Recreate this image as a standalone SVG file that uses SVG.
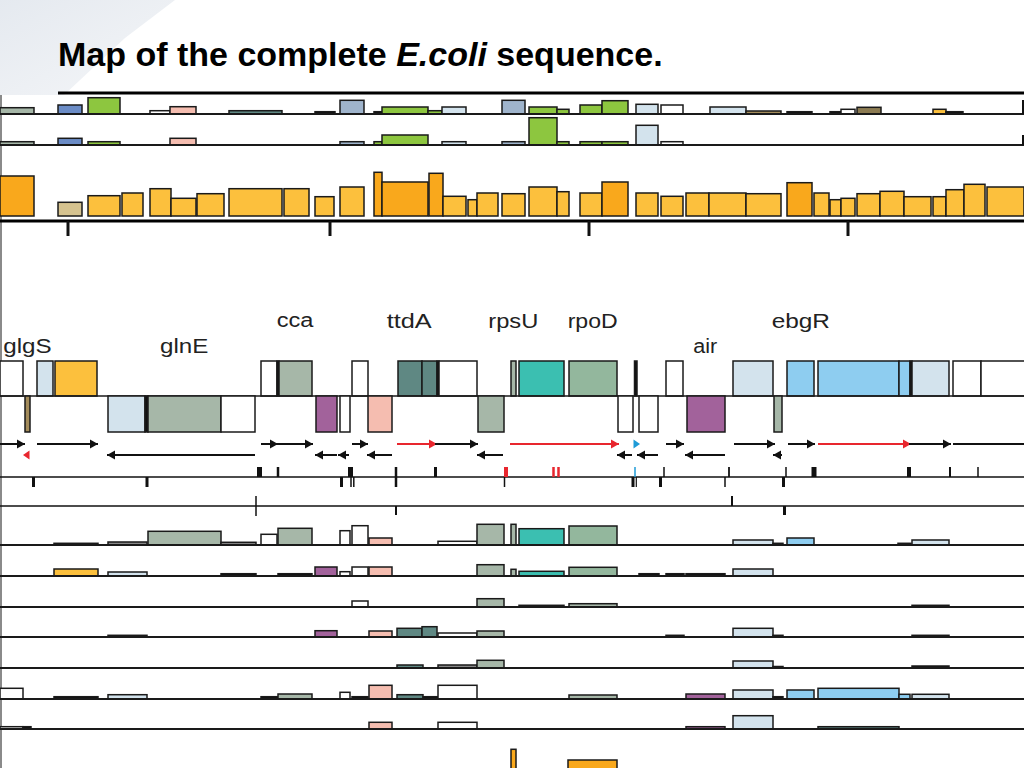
<svg xmlns="http://www.w3.org/2000/svg" width="1024" height="768" viewBox="0 0 1024 768">
<defs>
<linearGradient id="sw" x1="0" y1="0" x2="1" y2="1">
<stop offset="0" stop-color="#dce2ea"/>
<stop offset="1" stop-color="#f1f3f6"/>
</linearGradient>
<marker id="ak" markerWidth="10" markerHeight="10" refX="8" refY="5" orient="auto" markerUnits="userSpaceOnUse"><path d="M0,0.5 L8,5 L0,9.5 z" fill="#111"/></marker>
<marker id="ar" markerWidth="10" markerHeight="10" refX="8" refY="5" orient="auto" markerUnits="userSpaceOnUse"><path d="M0,0.5 L8,5 L0,9.5 z" fill="#e8262e"/></marker>
</defs>
<style>
rect{stroke:#1a1a1a;stroke-width:1.5}
.gg{fill:#a6b7a8}.sa{fill:#93b79d}.lb{fill:#d3e3ed}.oy{fill:#fcc03d}.od{fill:#f9a81c}
.pu{fill:#a2629b}.pk{fill:#f5bdb0}.dt{fill:#5f8883}.te{fill:#3bbfb1}.sk{fill:#8ecdf0}
.tn{fill:#a38b5a}.bl{fill:#6b8cc6}.gr{fill:#8dc63f}.gb{fill:#9fb4cc}.tb{fill:#d6c38f}
.br{fill:#8c7b52}.wh{fill:#ffffff}.bk{fill:#111}.gy{fill:#888}
.base{stroke:#1a1a1a;stroke-width:2}
.tk{stroke:#111}
.a{stroke:#111;stroke-width:2;fill:none;marker-end:url(#ak)}
.r{stroke:#e8262e;stroke-width:2;fill:none;marker-end:url(#ar)}
.lab{font-family:"Liberation Sans",Arial,sans-serif;font-size:20px;fill:#222}
</style>
<polygon points="0,0 175,0 125,38 64,95 0,95" fill="url(#sw)" opacity="0.75"/>
<line x1="1" y1="95" x2="1" y2="768" stroke="#8a8a8a" stroke-width="2"/>

<g id="title">
<text x="58" y="66" font-family="Liberation Sans,Arial,sans-serif" font-size="34" font-weight="bold" fill="#000">Map of the complete <tspan font-style="italic">E.coli</tspan> sequence.</text>
<line x1="58" y1="93" x2="1024" y2="93" stroke="#000" stroke-width="3"/>
</g>

<g id="row1">
<rect class="gg" x="0" y="107.7" width="34" height="6.3"/>
<rect class="bl" x="58" y="105" width="24" height="9"/>
<rect class="gr" x="88" y="97.7" width="32" height="16.3"/>
<rect class="wh" x="150" y="110.7" width="20" height="3.3"/>
<rect class="pk" x="170" y="106.7" width="26" height="7.3"/>
<rect class="dt" x="229" y="110.7" width="53" height="3.3"/>
<rect class="bk" x="315" y="111.7" width="20" height="2.3"/>
<rect class="gb" x="340" y="100.3" width="24" height="13.7"/>
<rect class="bk" x="374" y="111.7" width="8" height="2.3"/>
<rect class="gr" x="382" y="107" width="46" height="7"/>
<rect class="gr" x="428" y="110.7" width="14" height="3.3"/>
<rect class="lb" x="442" y="107" width="24" height="7"/>
<rect class="gb" x="502" y="100.3" width="23" height="13.7"/>
<rect class="gr" x="529" y="107" width="28" height="7"/>
<rect class="gr" x="557" y="109.3" width="12" height="4.7"/>
<rect class="gr" x="580" y="105" width="22" height="9"/>
<rect class="gr" x="602" y="100.7" width="26" height="13.3"/>
<rect class="lb" x="636" y="104.3" width="22" height="9.7"/>
<rect class="wh" x="661" y="105" width="22" height="9"/>
<rect class="lb" x="710" y="107" width="36" height="7"/>
<rect class="tn" x="746" y="111" width="35" height="3"/>
<rect class="bk" x="787" y="111.7" width="25" height="2.3"/>
<rect class="bk" x="830" y="111.7" width="11" height="2.3"/>
<rect class="wh" x="841" y="109.3" width="14" height="4.7"/>
<rect class="br" x="857" y="107.3" width="24" height="6.7"/>
<rect class="oy" x="933" y="109.3" width="13" height="4.7"/>
<rect class="bk" x="946" y="111.7" width="17" height="2.3"/>
<line class="base" x1="0" y1="114" x2="1024" y2="114"/>
<line class="tk" x1="1023" y1="100" x2="1023" y2="114" stroke-width="2"/>
</g>

<g id="row2">
<rect class="gg" x="0" y="141.7" width="34" height="3.3"/>
<rect class="bl" x="58" y="138.3" width="24" height="6.7"/>
<rect class="gr" x="88" y="141.7" width="32" height="3.3"/>
<rect class="pk" x="170" y="138.3" width="26" height="6.7"/>
<rect class="gb" x="340" y="141.7" width="24" height="3.3"/>
<rect class="gr" x="374" y="141.7" width="8" height="3.3"/>
<rect class="gr" x="382" y="135" width="46" height="10"/>
<rect class="lb" x="442" y="141.7" width="24" height="3.3"/>
<rect class="gb" x="502" y="141.7" width="23" height="3.3"/>
<rect class="gr" x="529" y="117.7" width="28" height="27.3"/>
<rect class="gr" x="557" y="141.7" width="12" height="3.3"/>
<rect class="gr" x="580" y="141.7" width="22" height="3.3"/>
<rect class="gr" x="602" y="141.7" width="26" height="3.3"/>
<rect class="lb" x="636" y="125.3" width="22" height="19.7"/>
<rect class="wh" x="661" y="141.7" width="22" height="3.3"/>
<line class="base" x1="0" y1="145" x2="1024" y2="145"/>
<line class="tk" x1="1023" y1="135" x2="1023" y2="145" stroke-width="2"/>
</g>

<g id="row3">
<rect class="od" x="0" y="176" width="34" height="40"/>
<rect class="tb" x="58" y="202.3" width="24" height="13.7"/>
<rect class="oy" x="88" y="195.7" width="32" height="20.3"/>
<rect class="oy" x="122" y="193" width="21" height="23"/>
<rect class="oy" x="150" y="188.7" width="21" height="27.3"/>
<rect class="oy" x="171" y="198.3" width="25" height="17.7"/>
<rect class="oy" x="197" y="193.7" width="27" height="22.3"/>
<rect class="oy" x="229" y="188.7" width="53" height="27.3"/>
<rect class="oy" x="284" y="188.7" width="25" height="27.3"/>
<rect class="oy" x="315" y="196.7" width="19" height="19.3"/>
<rect class="oy" x="340" y="187" width="24" height="29"/>
<rect class="od" x="374" y="172.3" width="8" height="43.7"/>
<rect class="od" x="382" y="182" width="46" height="34"/>
<rect class="od" x="429" y="173.3" width="14" height="42.7"/>
<rect class="oy" x="443" y="196.3" width="23" height="19.7"/>
<rect class="oy" x="468" y="199.7" width="9" height="16.3"/>
<rect class="oy" x="477" y="193" width="21" height="23"/>
<rect class="oy" x="502" y="193.7" width="23" height="22.3"/>
<rect class="oy" x="529" y="187" width="28" height="29"/>
<rect class="oy" x="557" y="191.7" width="12" height="24.3"/>
<rect class="oy" x="580" y="193" width="22" height="23"/>
<rect class="od" x="602" y="182" width="26" height="34"/>
<rect class="oy" x="636" y="193" width="22" height="23"/>
<rect class="oy" x="661" y="196.3" width="22" height="19.7"/>
<rect class="oy" x="686" y="193" width="23" height="23"/>
<rect class="oy" x="709" y="193" width="37" height="23"/>
<rect class="oy" x="746" y="193.7" width="35" height="22.3"/>
<rect class="od" x="787" y="182.7" width="25" height="33.3"/>
<rect class="oy" x="814" y="193" width="15" height="23"/>
<rect class="oy" x="830" y="199.7" width="11" height="16.3"/>
<rect class="oy" x="841" y="198.3" width="14" height="17.7"/>
<rect class="oy" x="857" y="193.7" width="23" height="22.3"/>
<rect class="oy" x="880" y="191.3" width="24" height="24.7"/>
<rect class="oy" x="904" y="196.7" width="27" height="19.3"/>
<rect class="oy" x="933" y="196.7" width="13" height="19.3"/>
<rect class="oy" x="946" y="189.7" width="18" height="26.3"/>
<rect class="oy" x="964" y="184.3" width="21" height="31.7"/>
<rect class="oy" x="987" y="187" width="37" height="29"/>
<line x1="0" y1="221" x2="1024" y2="221" stroke="#000" stroke-width="3"/>
<g class="tk" stroke-width="3">
<line x1="68" y1="221" x2="68" y2="236"/>
<line x1="330" y1="221" x2="330" y2="236"/>
<line x1="589" y1="221" x2="589" y2="236"/>
<line x1="848" y1="221" x2="848" y2="236"/>
</g>
</g>

<g id="labels">
<text class="lab" x="3.3" y="353.3" textLength="48.4" lengthAdjust="spacingAndGlyphs">glgS</text>
<text class="lab" x="160" y="353.3" textLength="48.3" lengthAdjust="spacingAndGlyphs">glnE</text>
<text class="lab" x="276.7" y="327" textLength="36.7" lengthAdjust="spacingAndGlyphs">cca</text>
<text class="lab" x="386.7" y="327.7" textLength="45" lengthAdjust="spacingAndGlyphs">ttdA</text>
<text class="lab" x="488.3" y="327.7" textLength="50" lengthAdjust="spacingAndGlyphs">rpsU</text>
<text class="lab" x="567.7" y="327.7" textLength="50" lengthAdjust="spacingAndGlyphs">rpoD</text>
<text class="lab" x="693.3" y="353.3" textLength="24" lengthAdjust="spacingAndGlyphs">air</text>
<text class="lab" x="771.7" y="328.3" textLength="58.3" lengthAdjust="spacingAndGlyphs">ebgR</text>
</g>

<g id="genes-upper">
<rect class="wh" x="0" y="361" width="23" height="35"/>
<rect class="lb" x="37" y="361" width="16" height="35"/>
<rect class="oy" x="55" y="361" width="42" height="35"/>
<rect class="wh" x="261" y="361" width="16" height="35"/>
<rect class="bk" x="277" y="361" width="2" height="35"/>
<rect class="gg" x="279" y="361" width="33" height="35"/>
<rect class="wh" x="352" y="361" width="16" height="35"/>
<rect class="dt" x="398" y="361" width="24" height="35"/>
<rect class="dt" x="422" y="361" width="15" height="35"/>
<rect class="bk" x="437" y="361" width="2" height="35"/>
<rect class="wh" x="439" y="361" width="38" height="35"/>
<rect class="gg" x="511" y="361" width="5" height="35"/>
<rect class="te" x="519" y="361" width="45" height="35"/>
<rect class="sa" x="569" y="361" width="48" height="35"/>
<rect class="bk" x="634.5" y="361" width="2.5" height="35"/>
<rect class="wh" x="666" y="361" width="17" height="35"/>
<rect class="lb" x="733" y="361" width="40" height="35"/>
<rect class="sk" x="787" y="361" width="27" height="35"/>
<rect class="sk" x="818" y="361" width="81" height="35"/>
<rect class="sk" x="899" y="361" width="11" height="35"/>
<rect class="bk" x="910" y="361" width="2" height="35"/>
<rect class="lb" x="912" y="361" width="37" height="35"/>
<rect class="wh" x="953" y="361" width="28" height="35"/>
<rect class="wh" x="981" y="361" width="44" height="35"/>
</g>
<line x1="0" y1="396" x2="1024" y2="396" stroke="#1a1a1a" stroke-width="1.5"/>
<g id="genes-lower">
<rect class="tn" x="25" y="396" width="5" height="36"/>
<rect class="lb" x="108" y="396" width="37" height="36"/>
<rect class="bk" x="145" y="396" width="3" height="36"/>
<rect class="gg" x="148" y="396" width="73" height="36"/>
<rect class="wh" x="221" y="396" width="34" height="36"/>
<rect class="pu" x="316" y="396" width="21" height="36"/>
<rect class="wh" x="340" y="396" width="10" height="36"/>
<rect class="pk" x="368" y="396" width="24" height="36"/>
<rect class="gg" x="478" y="396" width="26" height="36"/>
<rect class="wh" x="618" y="396" width="15" height="36"/>
<rect class="wh" x="639" y="396" width="19" height="36"/>
<rect class="pu" x="687" y="396" width="38" height="36"/>
<rect class="gg" x="774" y="396" width="8" height="36"/>
</g>

<g id="connectors">
<line class="a" x1="0" y1="444" x2="25" y2="444"/>
<line class="a" x1="37" y1="444" x2="98" y2="444"/>
<line class="a" x1="261" y1="444" x2="278" y2="444"/>
<line class="a" x1="276" y1="444" x2="313" y2="444"/>
<line class="a" x1="352" y1="444" x2="368" y2="444"/>
<line class="r" x1="397" y1="444" x2="437" y2="444"/>
<line class="a" x1="435" y1="444" x2="478" y2="444"/>
<line class="r" x1="510" y1="444" x2="619" y2="444"/>
<path d="M633.5,439.5 L640,444 L633.5,448.5 z" fill="#1e9bd7"/>
<line class="a" x1="666" y1="444" x2="684" y2="444"/>
<line class="a" x1="734" y1="444" x2="775" y2="444"/>
<line class="a" x1="788" y1="444" x2="815" y2="444"/>
<line class="r" x1="818" y1="444" x2="911" y2="444"/>
<line class="a" x1="909" y1="444" x2="951" y2="444"/>
<line x1="953" y1="444" x2="1024" y2="444" stroke="#111" stroke-width="2"/>
<path d="M29.5,450.5 L23,455 L29.5,459.5 z" fill="#e8262e"/>
<line class="a" x1="255" y1="455" x2="107" y2="455"/>
<line class="a" x1="337" y1="455" x2="315" y2="455"/>
<line class="a" x1="349" y1="455" x2="338" y2="455"/>
<line class="a" x1="392" y1="455" x2="367" y2="455"/>
<line class="a" x1="503" y1="455" x2="477" y2="455"/>
<line class="a" x1="632" y1="455" x2="617" y2="455"/>
<line class="a" x1="658" y1="455" x2="637" y2="455"/>
<line class="a" x1="725" y1="455" x2="685" y2="455"/>
<line class="a" x1="782" y1="455" x2="773" y2="455"/>
</g>

<g id="sites1">
<line x1="0" y1="477" x2="1024" y2="477" stroke="#111" stroke-width="1.5"/>
<g class="tk">
<line x1="259.5" y1="467" x2="259.5" y2="477" stroke-width="5"/>
<line x1="278" y1="467" x2="278" y2="477" stroke-width="2.5"/>
<line x1="350.5" y1="467" x2="350.5" y2="477" stroke-width="5"/>
<line x1="396" y1="467" x2="396" y2="487" stroke-width="2.5"/>
<line x1="435.5" y1="467" x2="435.5" y2="477" stroke-width="3"/>
<line x1="664" y1="467" x2="664" y2="477" stroke-width="1.5"/>
<line x1="729" y1="467" x2="729" y2="477" stroke-width="1.8"/>
<line x1="786" y1="467" x2="786" y2="477" stroke-width="1.5"/>
<line x1="814" y1="467" x2="814" y2="477" stroke-width="5"/>
<line x1="909" y1="467" x2="909" y2="477" stroke-width="4"/>
<line x1="950" y1="467" x2="950" y2="477" stroke-width="2"/>
<line x1="978" y1="467" x2="978" y2="477" stroke-width="1.5"/>
<line x1="33.5" y1="477" x2="33.5" y2="487" stroke-width="3"/>
<line x1="147" y1="477" x2="147" y2="487" stroke-width="3"/>
<line x1="341.5" y1="477" x2="341.5" y2="487" stroke-width="3"/>
<line x1="351" y1="477" x2="351" y2="487" stroke-width="1.5"/>
<line x1="353.8" y1="477" x2="353.8" y2="487" stroke-width="1.5"/>
<line x1="504.5" y1="477" x2="504.5" y2="487" stroke-width="1.5"/>
<line x1="633" y1="477" x2="633" y2="487" stroke-width="3"/>
<line x1="636.3" y1="477" x2="636.3" y2="487" stroke-width="1.2"/>
<line x1="660.5" y1="477" x2="660.5" y2="487" stroke-width="3"/>
<line x1="725" y1="477" x2="725" y2="487" stroke-width="1.5"/>
<line x1="783.5" y1="477" x2="783.5" y2="487" stroke-width="3"/>
</g>
<line x1="506" y1="467" x2="506" y2="477" stroke="#e8262e" stroke-width="4"/>
<line x1="553.5" y1="467" x2="553.5" y2="477" stroke="#e8262e" stroke-width="2.5"/>
<line x1="558.5" y1="467" x2="558.5" y2="477" stroke="#e8262e" stroke-width="2.5"/>
<line x1="635" y1="467" x2="635" y2="477" stroke="#1e9bd7" stroke-width="1.5"/>
</g>

<g id="sites2">
<line x1="0" y1="506" x2="1024" y2="506" stroke="#111" stroke-width="1.5"/>
<g class="tk">
<line x1="256" y1="496" x2="256" y2="516" stroke-width="1.5"/>
<line x1="396" y1="506" x2="396" y2="515" stroke-width="2"/>
<line x1="732" y1="496" x2="732" y2="506" stroke-width="2"/>
<line x1="784.5" y1="506" x2="784.5" y2="515" stroke-width="3"/>
</g>
</g>

<g id="rowA">
<rect class="bk" x="54" y="543.3" width="44" height="1.7"/>
<rect class="gy" x="108" y="542" width="39" height="3"/>
<rect class="gg" x="148" y="531.3" width="73" height="13.7"/>
<rect class="gy" x="221" y="542.3" width="35" height="2.7"/>
<rect class="wh" x="261" y="534.3" width="16" height="10.7"/>
<rect class="gg" x="278" y="528.3" width="34" height="16.7"/>
<rect class="wh" x="340" y="530.7" width="10" height="14.3"/>
<rect class="wh" x="352" y="525.7" width="16" height="19.3"/>
<rect class="pk" x="369" y="538" width="23" height="7"/>
<rect class="wh" x="438" y="541.3" width="39" height="3.7"/>
<rect class="gg" x="477" y="524.3" width="27" height="20.7"/>
<rect class="gg" x="511" y="524.3" width="5" height="20.7"/>
<rect class="te" x="519" y="528.7" width="45" height="16.3"/>
<rect class="sa" x="569" y="526" width="48" height="19"/>
<rect class="lb" x="733" y="540" width="40" height="5"/>
<rect class="bk" x="773" y="543.3" width="10" height="1.7"/>
<rect class="sk" x="787" y="538" width="27" height="7"/>
<rect class="bk" x="898" y="543.3" width="13" height="1.7"/>
<rect class="lb" x="912" y="540" width="37" height="5"/>
<line class="base" x1="0" y1="545" x2="1024" y2="545"/>
</g>

<g id="rowB">
<rect class="oy" x="54" y="569" width="44" height="7"/>
<rect class="lb" x="108" y="572" width="39" height="4"/>
<rect class="bk" x="221" y="573.7" width="35" height="2.3"/>
<rect class="bk" x="278" y="573.7" width="34" height="2.3"/>
<rect class="pu" x="315" y="567" width="22" height="9"/>
<rect class="wh" x="340" y="571.7" width="10" height="4.3"/>
<rect class="wh" x="352" y="567" width="16" height="9"/>
<rect class="pk" x="369" y="567" width="23" height="9"/>
<rect class="gg" x="477" y="564.7" width="27" height="11.3"/>
<rect class="gg" x="511" y="569.3" width="5" height="6.7"/>
<rect class="te" x="519" y="571.3" width="45" height="4.7"/>
<rect class="sa" x="569" y="567.3" width="48" height="8.7"/>
<rect class="bk" x="639" y="573.7" width="20" height="2.3"/>
<rect class="bk" x="666" y="573.7" width="18" height="2.3"/>
<rect class="bk" x="686" y="573.7" width="39" height="2.3"/>
<rect class="lb" x="733" y="569" width="40" height="7"/>
<line class="base" x1="0" y1="576" x2="1024" y2="576"/>
</g>

<g id="rowC">
<rect class="wh" x="352" y="601" width="16" height="6"/>
<rect class="gg" x="477" y="598.7" width="27" height="8.3"/>
<rect class="bk" x="519" y="605.3" width="45" height="1.7"/>
<rect class="gg" x="569" y="603.7" width="48" height="3.3"/>
<rect class="bk" x="912" y="605.3" width="37" height="1.7"/>
<line class="base" x1="0" y1="607" x2="1024" y2="607"/>
</g>

<g id="rowD">
<rect class="bk" x="108" y="635.3" width="39" height="1.7"/>
<rect class="pu" x="315" y="630.7" width="22" height="6.3"/>
<rect class="pk" x="369" y="631" width="23" height="6"/>
<rect class="dt" x="397" y="628.3" width="25" height="8.7"/>
<rect class="dt" x="422" y="626.7" width="15" height="10.3"/>
<rect class="wh" x="438" y="633" width="39" height="4"/>
<rect class="gg" x="477" y="631" width="27" height="6"/>
<rect class="bk" x="666" y="635.3" width="18" height="1.7"/>
<rect class="lb" x="733" y="628.3" width="40" height="8.7"/>
<rect class="bk" x="773" y="635.3" width="10" height="1.7"/>
<rect class="bk" x="912" y="635.3" width="37" height="1.7"/>
<line class="base" x1="0" y1="637" x2="1024" y2="637"/>
</g>

<g id="rowE">
<rect class="dt" x="397" y="665" width="26" height="3"/>
<rect class="gy" x="438" y="665" width="39" height="3"/>
<rect class="gg" x="477" y="660.3" width="27" height="7.7"/>
<rect class="lb" x="733" y="661" width="40" height="7"/>
<rect class="gy" x="773" y="666.5" width="10" height="1.5"/>
<rect class="bk" x="912" y="666" width="37" height="2"/>
<line class="base" x1="0" y1="668" x2="1024" y2="668"/>
</g>

<g id="rowF">
<rect class="wh" x="0" y="688.3" width="23" height="10.7"/>
<rect class="bk" x="54" y="696.7" width="44" height="2.3"/>
<rect class="lb" x="108" y="694.7" width="39" height="4.3"/>
<rect class="bk" x="261" y="696.7" width="17" height="2.3"/>
<rect class="gg" x="278" y="694" width="34" height="5"/>
<rect class="wh" x="340" y="692.3" width="10" height="6.7"/>
<rect class="bk" x="352" y="696.7" width="16" height="2.3"/>
<rect class="pk" x="369" y="685.3" width="23" height="13.7"/>
<rect class="dt" x="397" y="694.7" width="26" height="4.3"/>
<rect class="bk" x="423" y="696.7" width="15" height="2.3"/>
<rect class="wh" x="438" y="685.3" width="39" height="13.7"/>
<rect class="gg" x="569" y="695" width="48" height="4"/>
<rect class="pu" x="686" y="694" width="39" height="5"/>
<rect class="lb" x="733" y="690" width="40" height="9"/>
<rect class="bk" x="773" y="696.7" width="10" height="2.3"/>
<rect class="sk" x="787" y="690" width="27" height="9"/>
<rect class="sk" x="818" y="688.3" width="81" height="10.7"/>
<rect class="sk" x="899" y="694.3" width="11" height="4.7"/>
<rect class="lb" x="912" y="694.3" width="37" height="4.7"/>
<line class="base" x1="0" y1="699" x2="1024" y2="699"/>
</g>

<g id="rowG">
<rect class="wh" x="0" y="726.7" width="23" height="2.3"/>
<rect class="bk" x="23" y="726.7" width="8" height="2.3"/>
<rect class="pk" x="369" y="722.3" width="23" height="6.7"/>
<rect class="wh" x="438" y="722.3" width="39" height="6.7"/>
<rect class="pu" x="686" y="726.7" width="39" height="2.3"/>
<rect class="lb" x="733" y="715.7" width="40" height="13.3"/>
<rect class="dt" x="818" y="726.7" width="81" height="2.3"/>
<line class="base" x1="0" y1="729" x2="1024" y2="729"/>
</g>

<g id="rowH">
<rect class="od" x="511" y="749.3" width="5" height="25"/>
<rect class="od" x="568" y="760" width="49" height="15"/>
</g>
</svg>
